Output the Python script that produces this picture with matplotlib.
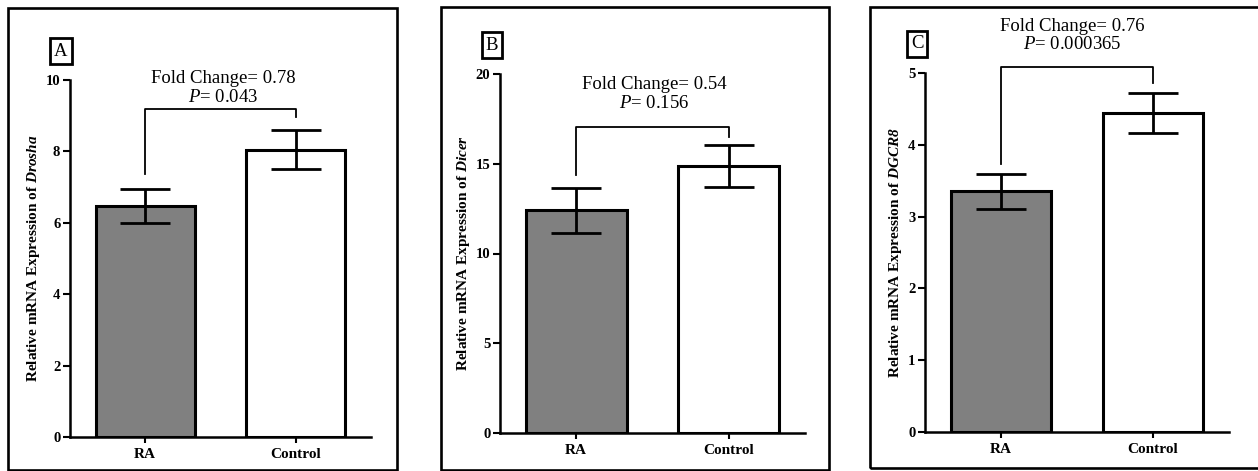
import matplotlib
matplotlib.use("Agg")
import matplotlib.pyplot as plt
from matplotlib.patches import Rectangle

plt.rcParams['font.family'] = 'Liberation Serif'
plt.rcParams['mathtext.fontset'] = 'custom'
plt.rcParams['mathtext.rm'] = 'Liberation Serif'
plt.rcParams['mathtext.it'] = 'Liberation Serif:italic'
plt.rcParams['mathtext.bf'] = 'Liberation Serif:bold'
plt.rcParams['mathtext.bfit'] = 'Liberation Serif:italic:bold'

# ---- data ----
panels = ['A', 'B', 'C']
genes = ['Drosha', 'Dicer', 'DGCR8']
groups = ['RA', 'Control']
ra_mean = [6.47, 12.40, 3.35]
ra_err = [0.48, 1.27, 0.24]
ctrl_mean = [8.05, 14.87, 4.44]
ctrl_err = [0.55, 1.15, 0.28]
fold_change = ['0.78', '0.54', '0.76']
p_values = ['0.043', '0.156', '0.000365']
y_max = [10, 20, 5]
y_step = [2, 5, 1]
# bracket: top height, left leg end, right leg end
bracket_top = [9.19, 17.04, 5.08]
bracket_left = [7.37, 14.40, 3.73]
bracket_right = [8.96, 16.50, 4.86]

# ---- layout (pixels in a 1258x471 figure) ----
W, H = 1258, 471
axes_px = [(70, 371, 80, 437), (500, 805, 74, 433), (925, 1229, 73, 432)]
border_px = [(8, 397, 8, 470), (441, 829, 7, 470), (870, 1300, 7, 468)]
letter_px = [(61, 51), (492, 45), (917, 44)]
fold_y = [10.03, 19.39, 5.65]
p_y = [9.52, 18.33, 5.40]
text_x = [0.52, 0.51, 0.47]

fig = plt.figure(figsize=(W / 100, H / 100), dpi=100)
fig.patch.set_facecolor('white')

for i in range(3):
    # panel frame
    x0, x1, y0, y1 = border_px[i]
    fig.patches.append(Rectangle((x0 / W, 1 - y1 / H), (x1 - x0) / W, (y1 - y0) / H,
                                 transform=fig.transFigure, fill=False,
                                 edgecolor='black', linewidth=1.9, zorder=0))

    l, r, t, b = axes_px[i]
    ax = fig.add_axes([l / W, 1 - b / H, (r - l) / W, (b - t) / H])
    ax.patch.set_alpha(0)

    means = [ra_mean[i], ctrl_mean[i]]
    errs = [ra_err[i], ctrl_err[i]]
    ax.bar([0, 1], means, width=0.66, color=['#808080', 'white'],
           edgecolor='black', linewidth=2.2, zorder=2)
    ax.errorbar([0, 1], means, yerr=errs, fmt='none', ecolor='black',
                elinewidth=2.0, capsize=18, capthick=2.0, zorder=3)

    # significance bracket
    ax.plot([0, 0, 1, 1],
            [bracket_left[i], bracket_top[i], bracket_top[i], bracket_right[i]],
            color='black', linewidth=1.3, clip_on=False, zorder=3)
    ax.text(text_x[i], fold_y[i], f'Fold Change= {fold_change[i]}',
            ha='center', va='center', fontsize=13.5, clip_on=False)
    ax.text(text_x[i], p_y[i], f'$P$= {p_values[i]}',
            ha='center', va='center', fontsize=13.5, clip_on=False)

    ax.set_xlim(-0.5, 1.5)
    ax.set_ylim(0, y_max[i])
    ax.set_yticks(range(0, y_max[i] + 1, y_step[i]))
    ax.set_xticks([0, 1])
    ax.set_xticklabels(groups, fontweight='bold', fontsize=11)
    for lab in ax.get_yticklabels():
        lab.set_fontweight('bold')
        lab.set_fontsize(10.5)
    ax.tick_params(axis='y', direction='out', length=5, width=1.5, pad=2)
    ax.tick_params(axis='x', direction='out', length=4, width=1.5, pad=4)
    for s in ['top', 'right']:
        ax.spines[s].set_visible(False)
    for s in ['left', 'bottom']:
        ax.spines[s].set_linewidth(1.8)

    ax.set_ylabel(r'Relative mRNA Expression of $\mathbfit{' + genes[i] + '}$',
                  fontweight='bold', fontsize=11, labelpad=2.5)

    # panel letter
    lx, ly = letter_px[i]
    fig.text(lx / W, 1 - ly / H, panels[i], ha='center', va='center', fontsize=13.5,
             bbox=dict(boxstyle='square,pad=0.22', facecolor='white',
                       edgecolor='black', linewidth=2.0))

fig.savefig('out.png', dpi=100, facecolor='white')
